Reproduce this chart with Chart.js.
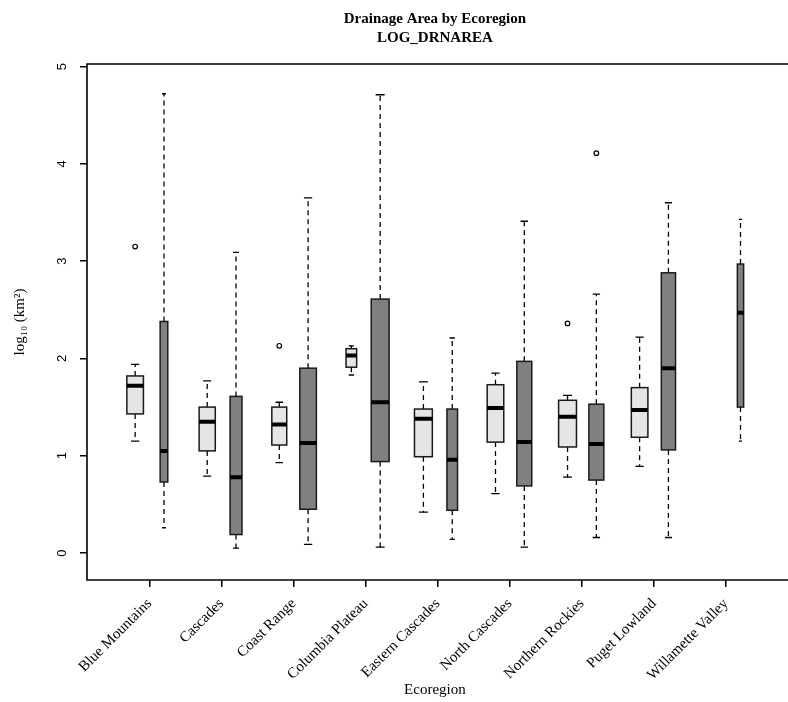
<!DOCTYPE html>
<html><head><meta charset="utf-8">
<script src="https://cdn.jsdelivr.net/npm/chart.js@4/dist/chart.umd.min.js"></script>
<style>html,body{margin:0;padding:0;background:#fff;overflow:hidden}#wrap{width:788px;height:702px;position:relative}</style>
</head><body><div id="wrap"><canvas id="c" width="788" height="702"></canvas></div>
<script>
const categories = ["Blue Mountains","Cascades","Coast Range","Columbia Plateau","Eastern Cascades","North Cascades","Northern Rockies","Puget Lowland","Willamette Valley"];
const yTicks = [0,1,2,3,4,5];
// light grey boxes
const lightLow  = [1.15,0.79,0.93,1.83,0.42,0.61,0.78,0.89,null];
const lightQ1   = [1.43,1.05,1.11,1.91,0.99,1.14,1.09,1.19,null];
const lightMed  = [1.72,1.35,1.32,2.03,1.38,1.49,1.40,1.47,null];
const lightQ3   = [1.82,1.50,1.50,2.10,1.48,1.73,1.57,1.70,null];
const lightHigh = [1.94,1.77,1.55,2.13,1.76,1.85,1.62,2.22,null];
const lightOut  = [[3.15],[],[2.13],[],[],[],[2.36],[],[]];
// dark grey boxes
const darkLow  = [0.26,0.05,0.09,0.06,0.14,0.06,0.16,0.16,1.15];
const darkQ1   = [0.73,0.19,0.45,0.94,0.44,0.69,0.75,1.06,1.50];
const darkMed  = [1.05,0.78,1.13,1.55,0.96,1.14,1.12,1.90,2.47];
const darkQ3   = [2.38,1.61,1.90,2.61,1.48,1.97,1.53,2.88,2.97];
const darkHigh = [4.72,3.09,3.65,4.71,2.21,3.41,2.66,3.60,3.43];
const darkOut  = [[],[],[],[],[],[],[4.11],[],[]];

// styling (box widths in axis units, offsets)
const style = {
  lightWidth: [0.23,0.224,0.207,0.147,0.248,0.23,0.248,0.23,0],
  darkWidth:  [0.106,0.165,0.23,0.248,0.147,0.207,0.207,0.197,0.087],
  lightOffset: -0.2, darkOffset: 0.2,
  lightFill: '#e5e5e5', darkFill: '#808080'
};

const boxPlugin = {
  id: 'boxes',
  beforeDatasetsDraw(chart) {
    const {ctx, chartArea: a, scales: {x, y}} = chart;
    ctx.save();
    ctx.beginPath(); ctx.rect(a.left, a.top, a.right - a.left, a.bottom - a.top); ctx.clip();
    const groups = [
      {low: lightLow, q1: lightQ1, med: lightMed, q3: lightQ3, high: lightHigh, off: style.lightOffset, w: style.lightWidth, fill: style.lightFill},
      {low: darkLow, q1: darkQ1, med: darkMed, q3: darkQ3, high: darkHigh, off: style.darkOffset, w: style.darkWidth, fill: style.darkFill}
    ];
    for (const g of groups) {
      for (let i = 0; i < categories.length; i++) {
        if (g.med[i] == null) continue;
        const cx = x.getPixelForValue(i + 1 + g.off);
        const half = x.getPixelForValue(i + 1 + g.off + g.w[i] / 2) - cx;
        const yl = y.getPixelForValue(g.low[i]), y1 = y.getPixelForValue(g.q1[i]),
              ym = y.getPixelForValue(g.med[i]), y3 = y.getPixelForValue(g.q3[i]),
              yh = y.getPixelForValue(g.high[i]);
        ctx.strokeStyle = '#000'; ctx.lineWidth = 1.3;
        ctx.setLineDash([5, 4]);
        ctx.beginPath(); ctx.moveTo(cx, y3); ctx.lineTo(cx, yh); ctx.moveTo(cx, y1); ctx.lineTo(cx, yl); ctx.stroke();
        ctx.setLineDash([]);
        ctx.beginPath();
        ctx.moveTo(cx - half / 2, yh); ctx.lineTo(cx + half / 2, yh);
        ctx.moveTo(cx - half / 2, yl); ctx.lineTo(cx + half / 2, yl);
        ctx.stroke();
        ctx.fillStyle = g.fill;
        ctx.fillRect(cx - half, y3, 2 * half, y1 - y3);
        ctx.lineWidth = 1.5; ctx.strokeStyle = '#1a1a1a';
        ctx.strokeRect(cx - half, y3, 2 * half, y1 - y3);
        ctx.lineWidth = 4; ctx.strokeStyle = '#000';
        ctx.beginPath(); ctx.moveTo(cx - half, ym); ctx.lineTo(cx + half, ym); ctx.stroke();
      }
    }
    ctx.restore();
  },
  afterDraw(chart) {
    const {ctx, chartArea: a, width} = chart;
    ctx.save();
    ctx.strokeStyle = '#000'; ctx.lineWidth = 1.6;
    ctx.beginPath();
    ctx.moveTo(width + 5, a.top); ctx.lineTo(a.left, a.top); ctx.lineTo(a.left, a.bottom); ctx.lineTo(width + 5, a.bottom);
    ctx.stroke();
    ctx.restore();
  }
};

const outPoints = (arr, off) => arr.flatMap((vals, i) => vals.map(v => ({x: i + 1 + off, y: v})));

new Chart(document.getElementById('c'), {
  type: 'scatter',
  data: {
    datasets: [
      {label: 'light outliers', data: outPoints(lightOut, style.lightOffset), pointRadius: 2.3, borderWidth: 1.2, borderColor: '#000', backgroundColor: 'rgba(0,0,0,0)'},
      {label: 'dark outliers', data: outPoints(darkOut, style.darkOffset), pointRadius: 2.3, borderWidth: 1.2, borderColor: '#000', backgroundColor: 'rgba(0,0,0,0)'}
    ]
  },
  options: {
    responsive: false, animation: false,
    layout: {padding: 0},
    plugins: {
      legend: {display: false}, tooltip: {enabled: false},
      title: {display: true, fullSize: false, text: ['Drainage Area by Ecoregion', 'LOG_DRNAREA'], color: '#000',
        font: {family: 'Liberation Serif', size: 15, weight: 'bold', lineHeight: 1.3}, padding: {top: 9, bottom: 16}}
    },
    scales: {
      x: {type: 'linear', min: 0.132, max: 9.787,
        afterBuildTicks: s => { s.ticks = categories.map((c, i) => ({value: i + 1})); },
        afterFit: s => { s.height = 122; },
        ticks: {callback: v => categories[Math.round(v) - 1], minRotation: 45, maxRotation: 45, autoSkip: false,
          font: {family: 'Liberation Serif', size: 15}, color: '#000', padding: 8},
        grid: {drawOnChartArea: false, drawTicks: true, tickLength: 7, color: '#000', lineWidth: 1.5},
        border: {display: false},
        title: {display: true, text: 'Ecoregion', color: '#000', font: {family: 'Liberation Serif', size: 15}, padding: {top: 0, bottom: 3}}
      },
      y: {type: 'linear', min: -0.277, max: 5.026,
        afterBuildTicks: s => { s.ticks = yTicks.map(v => ({value: v})); },
        afterFit: s => { s.width = 87; },
        ticks: {minRotation: 90, maxRotation: 90, crossAlign: 'center', padding: 14,
          font: {family: 'Liberation Sans', size: 13}, color: '#000'},
        grid: {drawOnChartArea: false, drawTicks: true, tickLength: 7, color: '#000', lineWidth: 1.5},
        border: {display: false},
        title: {display: true, text: 'log₁₀ (km²)', color: '#000', font: {family: 'Liberation Serif', size: 15}, padding: {top: 11, bottom: 0}}
      }
    }
  },
  plugins: [boxPlugin]
});
</script>
</body></html>
